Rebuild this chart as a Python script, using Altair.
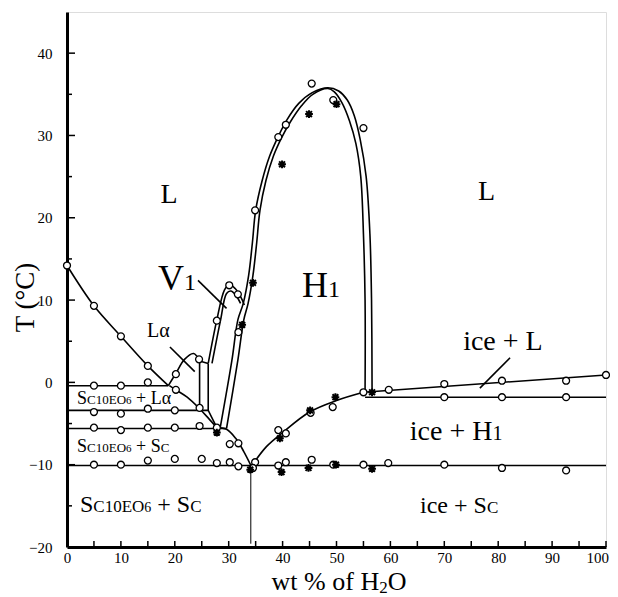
import altair as alt
import pandas as pd

FONT = "Liberation Serif"
W, H = 539, 535
XMIN, XMAX, YMIN, YMAX = 0, 100, -20, 45
PX = W / (XMAX - XMIN)

# ---------------- measured points ----------------
circle_x = [0, 5, 10, 15,
            5, 10, 15,
            20.2, 20.2, 24.5,
            5, 10, 15, 20, 24.6,
            5, 10, 15, 20, 24.6, 27.8,
            30.2, 31.8,
            5, 10, 15, 20, 25, 27.8, 30.2, 31.8, 34.9, 34.5, 39.2, 40.6, 45.4, 49.4, 55, 59.6, 70, 80.7, 92.6,
            30.1, 31.7, 27.8, 31.8,
            34.9, 39.2, 40.6, 45.4, 49.4, 55,
            39.2, 40.6, 45.2, 49.3, 55, 59.7, 70, 80.7, 92.6, 100,
            70, 80.7, 92.6]
circle_t = [14.2, 9.3, 5.6, 2.0,
            -0.4, -0.4, 0.0,
            1.0, -0.9, 2.8,
            -3.6, -3.8, -3.2, -3.4, -3.1,
            -5.5, -5.8, -5.5, -5.5, -5.3, -5.5,
            -7.5, -7.4,
            -10.0, -10.0, -9.5, -9.3, -9.3, -9.8, -9.7, -10.2, -9.7, -10.4, -10.1, -9.7, -9.4, -10.0, -10.0, -9.8, -10.0, -10.4, -10.7,
            11.8, 10.7, 7.5, 6.1,
            20.9, 29.8, 31.3, 36.3, 34.3, 30.9,
            -5.8, -6.2, -3.7, -3.0, -1.2, -0.9, -0.2, 0.2, 0.2, 0.9,
            -1.8, -1.8, -1.8]

star_x = [34.5, 32.5, 39.9, 44.9, 50.0, 27.8, 34.0, 39.5, 45.1, 49.8, 56.6, 39.8, 44.8, 49.9, 56.6]
star_t = [12.1, 7.0, 26.5, 32.6, 33.8, -6.1, -10.6, -6.8, -3.4, -1.8, -1.2, -10.9, -10.4, -10.0, -10.5]

# ---------------- smooth phase boundaries ----------------
liq_left_x = [0, 5, 10, 15, 18.8]
liq_left_t = [14.2, 9.3, 5.6, 2.0, -0.4]
la_dome_x = [18.8, 20.2, 21.8, 23.5, 24.6]
la_dome_t = [-0.4, 1.1, 2.8, 3.5, 2.6]
la_lower_x = [19.0, 20.2, 22.3, 24.6, 26.3, 27.8]
la_lower_t = [-0.4, -0.9, -1.8, -3.2, -4.4, -5.5]
eut_x = [27.8, 29.6, 31.3, 32.8, 34.2]
eut_t = [-5.5, -5.7, -6.8, -8.4, -10.2]
ice_liq_x = [34.2, 37, 40, 45, 50, 55]
ice_liq_t = [-10.2, -7.8, -6.1, -3.6, -2.2, -1.2]
v1_outer_x = [26.2, 27.8, 29.2, 30.1, 31.2, 32.3, 32.9]
v1_outer_t = [2.3, 7.6, 11.2, 11.9, 11.4, 10.3, 9.4]
v1_inner_x = [26.9, 28.5, 29.6, 30.4, 31.3, 32.2]
v1_inner_t = [2.3, 7.6, 10.8, 11.1, 10.6, 9.6]
h1_outer_x = [28.4, 30.6, 31.7, 32.7, 33.7, 34.4, 35.0, 36.2, 37.6, 39.2, 40.8, 43.0, 45.5, 48.4,
              50.4, 52.0, 53.3, 54.4, 55.5, 56.2, 56.5, 56.6]
h1_outer_t = [-5.6, 2.7, 7.6, 9.6, 13.0, 17.0, 20.9, 24.5, 27.5, 29.9, 31.9, 33.9, 35.2, 35.8,
              35.4, 34.3, 32.4, 29.5, 25.0, 18.0, 10.0, -1.2]
h1_inner_x = [29.6, 31.7, 32.8, 33.6, 34.5, 35.2, 35.8, 36.9, 38.3, 39.8, 41.4, 43.5, 45.6, 48.4,
              49.6, 51.0, 52.4, 53.6, 54.5, 55.0, 55.3, 55.3]
h1_inner_t = [-5.6, 2.7, 7.6, 9.6, 13.0, 17.0, 20.9, 24.5, 27.5, 29.7, 31.6, 33.6, 35.0, 35.7,
              35.3, 34.0, 31.8, 29.0, 25.0, 18.0, 10.0, -1.2]

# ---------------- straight boundaries ----------------
row1_x, row1_t = [0, 18.8], [-0.4, -0.4]
row2_x, row2_t = [0, 26.2], [-3.4, -3.4]
row3_x, row3_t = [0, 29.6], [-5.6, -5.6]
row4_x, row4_t = [0, 100], [-10.1, -10.1]
row5_x, row5_t = [55.3, 100], [-1.8, -1.8]
la_edge_x, la_edge_t = [26.2, 24.6, 24.6], [2.3, 2.6, -3.2]
v1_base_x, v1_base_t = [27.8, 26.2, 26.2], [-5.5, -3.4, 2.3]
ice_hi_x, ice_hi_t = [55, 100], [-1.2, 0.9]
v1_ptr_x, v1_ptr_t = [24.3, 29.6], [12.4, 9.0]
la_ptr_x, la_ptr_t = [19.1, 23.7], [4.3, 1.3]
icel_ptr_x, icel_ptr_t = [82.2, 76.6], [3.0, -0.7]
eut_vert_x, eut_vert_t = [34.1, 34.1], [-10.2, -19.6]

x_tick_vals = list(range(0, 101, 5))
x_label_vals = list(range(0, 91, 10))
x_last_label = [100]
y_major = [-10, 0, 10, 20, 30, 40]
y_minor = [-15, -5, 5, 15, 25, 35]


def line_df(named):
    rows = []
    for name, (xs, ts) in named.items():
        for i, (a, b) in enumerate(zip(xs, ts)):
            rows.append({"id": name, "i": i, "x": a, "t": b})
    return pd.DataFrame(rows)


smooth_df = line_df({
    "liq_left": (liq_left_x, liq_left_t), "la_dome": (la_dome_x, la_dome_t),
    "la_lower": (la_lower_x, la_lower_t), "eut": (eut_x, eut_t),
    "ice_liq": (ice_liq_x, ice_liq_t), "v1o": (v1_outer_x, v1_outer_t),
    "v1i": (v1_inner_x, v1_inner_t), "h1o": (h1_outer_x, h1_outer_t),
    "h1i": (h1_inner_x, h1_inner_t)})
straight_df = line_df({
    "r1": (row1_x, row1_t), "r2": (row2_x, row2_t), "r3": (row3_x, row3_t),
    "r4": (row4_x, row4_t), "r5": (row5_x, row5_t), "lae": (la_edge_x, la_edge_t),
    "v1b": (v1_base_x, v1_base_t), "ice_hi": (ice_hi_x, ice_hi_t),
    "p1": (v1_ptr_x, v1_ptr_t), "p2": (la_ptr_x, la_ptr_t), "p3": (icel_ptr_x, icel_ptr_t)})
thin_df = line_df({"ev": (eut_vert_x, eut_vert_t)})

# ---------------- text labels (composed pieces) ----------------
EM = {'S': .556, 'C': .667, 'E': .611, 'O': .722, 'L': .611, 'H': .722, 'V': .722,
      'i': .278, 'c': .444, 'e': .444, ' ': .25, '+': .564, 'α': .52,
      '1': .5, '0': .5, '6': .5, '2': .5, 'w': .722, 't': .278, '%': .833, 'o': .5, 'f': .333}


def tw(s, size):
    return sum(EM.get(ch, .5) for ch in s) * size


def pieces(x0, t, parts):
    out, cur = [], x0
    for txt, size in parts:
        if txt.strip():
            out.append({"x": cur, "t": t, "text": txt, "size": size})
        cur += tw(txt, size) / PX
    return out


labels = []
labels += pieces(17.35, 21.8, [("L", 28)])
labels += pieces(76.25, 22.2, [("L", 28)])
labels += pieces(16.9, 11.2, [("V", 36), ("1", 24)])
labels += pieces(43.6, 10.4, [("H", 36), ("1", 24)])
labels += pieces(14.84, 5.5, [("Lα", 20)])
labels += pieces(73.5, 3.9, [("ice + L", 28)])
labels += pieces(63.6, -7.0, [("ice + H", 28), ("1", 20)])
labels += pieces(65.5, -15.9, [("ice + S", 24), ("C", 17)])
labels += pieces(1.86, -2.6, [("S", 18), ("C10EO", 13), ("6", 11), (" ", 18), ("+ Lα", 18)])
labels += pieces(1.86, -8.5, [("S", 18), ("C10EO", 13), ("6", 11), (" ", 18), ("+ S", 18), ("C", 13)])
labels += pieces(2.41, -15.75, [("S", 24), ("C10EO", 17), ("6", 14), (" ", 24), ("+ S", 24), ("C", 17)])
label_df = pd.DataFrame(labels)

# x-axis title pieces (pixel coordinates relative to the plot area)
title_parts = [("wt % of H", 26, 0), ("2", 17, 3), ("O", 26, 0)]
total_w = sum(tw(p[0], p[1]) for p in title_parts)
cx = 272 - total_w / 2
title_rows = []
for txt, size, dy in title_parts:
    title_rows.append({"px": cx, "py": 578 + dy, "text": txt, "size": size})
    cx += tw(txt, size)
title_df = pd.DataFrame(title_rows)

# ---------------- chart ----------------
xs = alt.Scale(domain=[XMIN, XMAX], nice=False, zero=False)
ys = alt.Scale(domain=[YMIN, YMAX], nice=False, zero=False)
xaxis = alt.Axis(values=x_label_vals, tickSize=0, title=None, grid=False,
                 labelFont=FONT, labelFontSize=15, labelColor="black", labelPadding=3,
                 domainColor="black", domainWidth=3, labelFlush=False)
yaxis = alt.Axis(values=[-20, -10, 0, 10, 20, 30, 40], tickSize=0, title="T (°C)", grid=False,
                 labelFont=FONT, labelFontSize=15, labelColor="black", labelPadding=15,
                 domainColor="black", domainWidth=3, labelFlush=False,
                 titleFont=FONT, titleFontSize=27, titleFontWeight="normal", titleColor="black",
                 titleX=-34, titleY=285, titleAngle=270, titleAlign="center",
                 titleBaseline="alphabetic")


def X(f="x"):
    return alt.X(f"{f}:Q", scale=xs, axis=xaxis)


def Y(f="t"):
    return alt.Y(f"{f}:Q", scale=ys, axis=yaxis)


smooth = alt.Chart(smooth_df).mark_line(color="black", strokeWidth=1.6, interpolate="catmull-rom").encode(
    x=X(), y=Y(), detail="id:N", order="i:Q")
straight = alt.Chart(straight_df).mark_line(color="black", strokeWidth=1.6).encode(
    x=X(), y=Y(), detail="id:N", order="i:Q")
thin = alt.Chart(thin_df).mark_line(color="black", strokeWidth=1.0).encode(
    x=X(), y=Y(), detail="id:N", order="i:Q")

circles = alt.Chart(pd.DataFrame({"x": circle_x, "t": circle_t})).mark_point(
    shape="circle", filled=True, fill="white", stroke="black", strokeWidth=1.3, size=48, opacity=1
).encode(x=X(), y=Y())

STAR = "M-1,0L1,0M0,-1L0,1M-0.75,-0.75L0.75,0.75M-0.75,0.75L0.75,-0.75"
stars = alt.Chart(pd.DataFrame({"x": star_x, "t": star_t})).mark_point(
    shape=STAR, filled=False, stroke="black", strokeWidth=2.0, size=60, opacity=1
).encode(x=X(), y=Y())

texts = alt.Chart(label_df).mark_text(align="left", baseline="alphabetic", font=FONT, color="black").encode(
    x=X(), y=Y(), text="text:N", size=alt.Size("size:Q", scale=None))

last_label = alt.Chart(pd.DataFrame({"v": x_last_label})).mark_text(
    align="right", baseline="top", font=FONT, fontSize=15, color="black", dx=3, dy=4
).encode(x=X("v"), y=alt.value(H), text=alt.Text("v:Q", format="d"))

xtitle = alt.Chart(title_df).mark_text(align="left", baseline="alphabetic", font=FONT, color="black").encode(
    x=alt.X("px:Q", scale=None), y=alt.Y("py:Q", scale=None), text="text:N",
    size=alt.Size("size:Q", scale=None))

xticks = alt.Chart(pd.DataFrame({"v": x_tick_vals})).mark_rule(color="black", strokeWidth=1.5).encode(
    x=X("v"), y=alt.value(H), y2=alt.value(H - 6))
ymaj = alt.Chart(pd.DataFrame({"v": y_major})).mark_rule(color="black", strokeWidth=1.5).encode(
    y=Y("v"), x=alt.value(0), x2=alt.value(8))
ymin = alt.Chart(pd.DataFrame({"v": y_minor})).mark_rule(color="black", strokeWidth=1.5).encode(
    y=Y("v"), x=alt.value(0), x2=alt.value(5))

chart = alt.layer(xticks, ymaj, ymin, straight, thin, smooth, circles, stars, texts,
                  last_label, xtitle).properties(
    width=W, height=H, autosize="none",
    padding={"left": 59, "top": 4, "right": 4, "bottom": 50}
).configure_view(stroke="black", strokeWidth=2).configure(background="white")

chart.save("out.html", embed_options={"renderer": "svg", "actions": False})
